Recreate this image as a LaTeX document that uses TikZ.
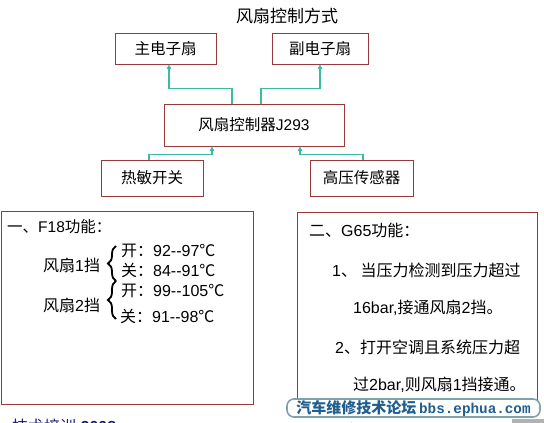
\documentclass[tikz,border=0pt]{standalone}
\usepackage{fontspec}
\setmainfont{Liberation Sans}
\newfontfamily\cjk{Noto Sans CJK SC}
\newfontfamily\monof{Liberation Mono}
\usetikzlibrary{decorations.pathreplacing,arrows.meta}
\definecolor{boxred}{HTML}{9A3A3A}
\definecolor{tealc}{HTML}{3DBBA0}
\definecolor{wmblue}{HTML}{1F5E8E}
\definecolor{wmframe}{HTML}{7FA3A8}
\definecolor{footblue}{HTML}{1A1A8C}
\newcommand{\dd}{-{}-}
\begin{document}
\begin{tikzpicture}[x=1pt,y=-1pt,
  box/.style={draw=boxred, line width=0.9pt, inner sep=0pt, align=center},
  conn/.style={draw=tealc, line width=1.2pt, -{Triangle[length=4.5pt,width=4.5pt]}},
  fsbox/.style={font=\fontsize{15.5}{18}\selectfont},
  fstext/.style={font=\fontsize{16}{19}\selectfont, inner sep=0pt},
  brace1/.style={decorate, decoration={brace, amplitude=8pt}, line width=1.8pt}
]
\useasboundingbox[fill=white] (0,0) rectangle (544,423);

% title
\node[font=\fontsize{17}{20}\selectfont] (title) at (287,16) {\cjk 风扇控制方式};

% boxes
\node[box, fsbox, minimum width=101pt, minimum height=31pt] (mainfan) at (165.5,48.5) {\cjk 主电子扇};
\node[box, fsbox, minimum width=96pt, minimum height=31pt] (subfan) at (320,48.5) {\cjk 副电子扇};
\node[box, fsbox, minimum width=180pt, minimum height=42pt] (ctrl) at (254,125) {{\cjk 风扇控制器}J293};
\node[box, fsbox, minimum width=102pt, minimum height=36pt] (therm) at (152,178) {\cjk 热敏开关};
\node[box, fsbox, minimum width=103pt, minimum height=36pt] (press) at (361.5,178) {\cjk 高压传感器};

% connectors
\draw[conn] ([xshift=-22pt]ctrl.north) -- ++(0,-15) -| ([xshift=3.5pt]mainfan.south);
\draw[conn] ([xshift=7pt]ctrl.north) -- ++(0,-15) -| (subfan.south);
\draw[conn] ([xshift=-3pt]therm.north) -- ++(0,-5) -| ([xshift=-42pt]ctrl.south);
\draw[conn] ([xshift=1.5pt]press.north) -- ++(0,-5) -| ([xshift=46pt]ctrl.south);

% lower left panel
\node[draw=boxred, line width=0.9pt, minimum width=252pt, minimum height=193pt, anchor=north west, inner sep=0pt] (leftpanel) at (0.5,211) {};
\node[fstext, anchor=west, font=\fontsize{15.5}{19}\selectfont] (lh) at (7,227) {{\cjk 一、}F18{\cjk 功能：}};
\node[fstext, anchor=west] (g1) at (43,265) {{\cjk 风扇}1{\cjk 挡}};
\node[fstext, anchor=west] (g2) at (43,305) {{\cjk 风扇}2{\cjk 挡}};
\node[fstext, anchor=west] (l1) at (121,251) {{\cjk 开：}92\dd97{\cjk ℃}};
\node[fstext, anchor=west] (l2) at (121,270) {{\cjk 关：}84\dd91{\cjk ℃}};
\node[fstext, anchor=west] (l3) at (121,291) {{\cjk 开：}99\dd105{\cjk ℃}};
\node[fstext, anchor=west] (l4) at (120,316) {{\cjk 关：}91\dd98{\cjk ℃}};
\coordinate (b1top) at (116,246);
\coordinate (b1bot) at (116,281);
\coordinate (b2bot) at (116,319);
\draw[brace1] (b1bot) -- (b1top);
\draw[brace1] (b2bot) -- (b1bot);

% lower right panel
\node[draw=boxred, line width=0.9pt, minimum width=240pt, minimum height=192pt, anchor=north west, inner sep=0pt] (rightpanel) at (297,212) {};
\node[fstext, anchor=west] (rh) at (309,230) {{\cjk 二、}G65{\cjk 功能：}};
\node[fstext, anchor=west] (r1) at (332,270) {1{\cjk 、 当压力检测到压力超过}};
\node[fstext, anchor=west] (r2) at (353,308) {16bar,{\cjk 接通风扇}2{\cjk 挡。}};
\node[fstext, anchor=west] (r3) at (335,347) {2{\cjk 、打开空调且系统压力超}};
\node[fstext, anchor=west] (r4) at (353,385) {{\cjk 过}2bar,{\cjk 则风扇}1{\cjk 挡接通。}};

% watermark
\node[draw=wmframe, fill=white, line width=1.6pt, rounded corners=7pt, minimum width=253pt, minimum height=18pt, inner sep=0pt, text=wmblue] (wm) at (413.5,408)
  {{\cjk\fontsize{15}{16}\selectfont\bfseries 汽车维修技术论坛} {\monof\fontsize{14.3}{16}\selectfont\bfseries bbs.ephua.com}};

% footer (cut off as in the reference)
\node[anchor=west, text=footblue, font=\fontsize{16}{19}\selectfont, inner sep=0pt] (foot) at (12,426) {{\cjk 技术培训} \textbf{2008}};
\node[anchor=west, font=\fontsize{16}{19}\selectfont\bfseries, inner sep=0pt] (pg) at (347,429) {24};
\fill[gray!60] (512,419) rectangle (544,423);
\end{tikzpicture}
\end{document}
